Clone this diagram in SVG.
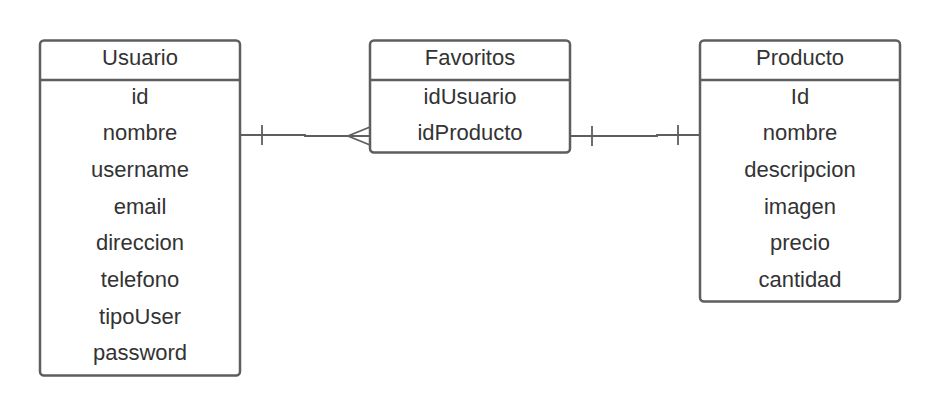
<svg xmlns="http://www.w3.org/2000/svg" width="940" height="416" viewBox="0 0 940 416">
  <style>
    .box { fill: #ffffff; stroke: #5e5e5e; stroke-width: 2.5; }
    .sep { stroke: #5e5e5e; stroke-width: 2.5; }
    .t { font-family: "Liberation Sans", Arial, sans-serif; font-size: 22px; fill: #333333; text-anchor: middle; }
    .conn { fill: none; stroke: #5e5e5e; stroke-width: 1.8; }
  </style>
  <rect width="940" height="416" fill="#ffffff"/>
  <g id="connectors">
    <polyline class="conn" points="241,135 305,135 305,136 370,136"/>
    <line class="conn" x1="262" y1="125" x2="262" y2="145"/>
    <polyline class="conn" points="370,127 348,136 370,145"/>
    <polyline class="conn" points="570,136 657,136 657,135 700,135"/>
    <line class="conn" x1="592" y1="126" x2="592" y2="146"/>
    <line class="conn" x1="678" y1="125" x2="678" y2="145"/>
  </g>
  <g id="usuario">
    <rect class="box" x="40" y="40.5" width="200" height="335" rx="4"/>
    <line class="sep" x1="40" y1="80" x2="240" y2="80"/>
    <text class="t" x="140" y="65">Usuario</text>
    <text class="t" x="140" y="103.5">id</text>
    <text class="t" x="140" y="140.2">nombre</text>
    <text class="t" x="140" y="176.9">username</text>
    <text class="t" x="140" y="213.6">email</text>
    <text class="t" x="140" y="250.3">direccion</text>
    <text class="t" x="140" y="287">telefono</text>
    <text class="t" x="140" y="323.7">tipoUser</text>
    <text class="t" x="140" y="360.4">password</text>
  </g>
  <g id="favoritos">
    <rect class="box" x="370" y="40.5" width="200" height="112" rx="4"/>
    <line class="sep" x1="370" y1="80" x2="570" y2="80"/>
    <text class="t" x="470" y="65">Favoritos</text>
    <text class="t" x="470" y="103.5">idUsuario</text>
    <text class="t" x="470" y="140.2">idProducto</text>
  </g>
  <g id="producto">
    <rect class="box" x="700" y="40.5" width="200" height="261" rx="4"/>
    <line class="sep" x1="700" y1="80" x2="900" y2="80"/>
    <text class="t" x="800" y="65">Producto</text>
    <text class="t" x="800" y="103.5">Id</text>
    <text class="t" x="800" y="140.2">nombre</text>
    <text class="t" x="800" y="176.9">descripcion</text>
    <text class="t" x="800" y="213.6">imagen</text>
    <text class="t" x="800" y="250.3">precio</text>
    <text class="t" x="800" y="287">cantidad</text>
  </g>
</svg>
